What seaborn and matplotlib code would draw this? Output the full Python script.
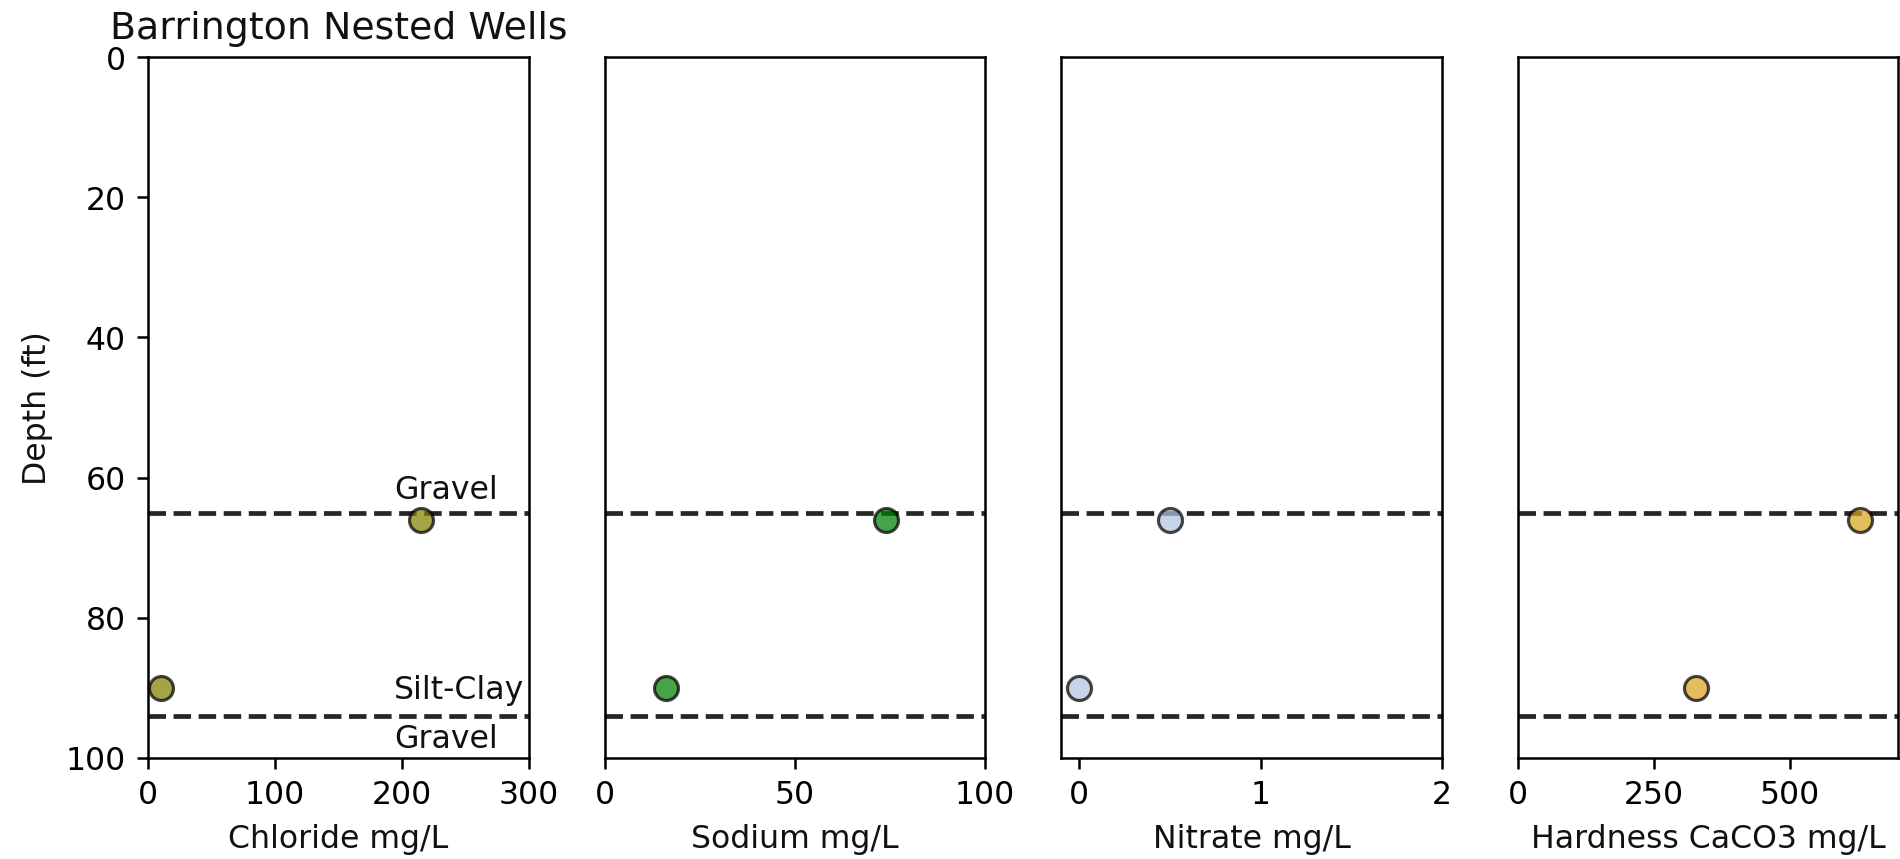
import matplotlib
matplotlib.use("Agg")
import matplotlib.pyplot as plt
import seaborn as sns
import pandas as pd

# ---- data ----
depths = [66, 90]
chloride = [215, 10]
sodium = [74, 16]
nitrate = [0.5, 0.0]
hardness = [630, 328]

layer_bounds = [65, 94]
layer_labels = ["Gravel", "Silt-Clay", "Gravel"]
layer_label_depths = [63, 91.5, 98.5]

params = ["Chloride mg/L", "Sodium mg/L", "Nitrate mg/L", "Hardness CaCO3 mg/L"]
values = [chloride, sodium, nitrate, hardness]
colors = ["olive", "green", "lightsteelblue", "goldenrod"]
xlims = [(0, 300), (0, 100), (-0.1, 2), (0, 700)]
xticks = [[0, 100, 200, 300], [0, 50, 100], [0, 1, 2], [0, 250, 500]]

title = "Barrington Nested Wells"
ylabel = "Depth (ft)"

sns.set_style("ticks")
plt.rcParams.update({
    "font.family": ["DejaVu Sans"],
    "font.size": 10,
    "axes.edgecolor": "black",
    "axes.linewidth": 0.8,
    "xtick.color": "black",
    "ytick.color": "black",
    "text.color": "#111111",
    "axes.labelcolor": "#111111",
    "xtick.labelsize": 10,
    "ytick.labelsize": 10,
    "axes.labelsize": 10,
    "axes.titlesize": 12,
    "xtick.major.size": 3.5,
    "ytick.major.size": 3.5,
    "xtick.major.width": 0.8,
    "ytick.major.width": 0.8,
})

DPI = 227
fig, axes = plt.subplots(1, 4, sharey=True, figsize=(1900.4 / DPI, 859.4 / DPI), dpi=DPI)
fig.subplots_adjust(left=0.0779, right=0.9989, top=0.9328, bottom=0.1179, wspace=0.2)

for ax, name, vals, col, xl, xt in zip(axes, params, values, colors, xlims, xticks):
    df = pd.DataFrame({"value": vals, "depth": depths})
    for b in layer_bounds:
        ax.axhline(b, color="black", ls="--", lw=1.5, alpha=0.85, zorder=1)
    sns.scatterplot(data=df, x="value", y="depth", ax=ax, color=col, alpha=0.72,
                    s=58, edgecolor="black", linewidth=1.0, zorder=3)
    ax.set_xlim(*xl)
    ax.set_xticks(xt)
    ax.set_xlabel(name)
    ax.set_ylabel("")
    for s in ["top", "right", "left", "bottom"]:
        ax.spines[s].set_visible(True)

axes[0].set_ylim(100, 0)
axes[0].set_yticks([0, 20, 40, 60, 80, 100])
axes[0].set_ylabel(ylabel)
axes[0].set_title(title)
for ax in axes[1:]:
    ax.tick_params(axis="y", left=False, labelleft=False)
for lbl, d in zip(layer_labels, layer_label_depths):
    axes[0].text(194, d, lbl, ha="left", va="baseline")

fig.savefig("out.png", dpi=DPI)
